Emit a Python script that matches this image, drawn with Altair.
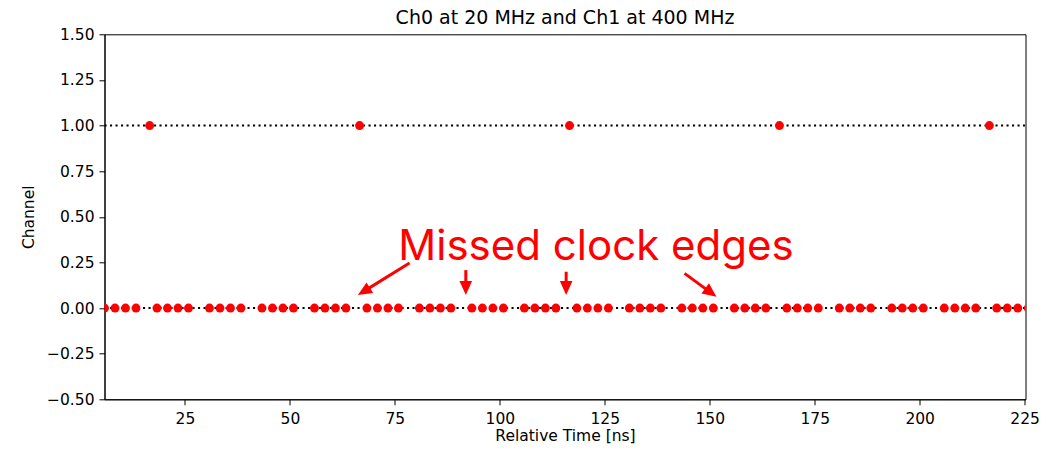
import altair as alt
import pandas as pd

# ---- data ----
ch0_time = [5.85, 8.35, 10.85, 13.35, 18.35, 20.85, 23.35, 25.85,
            30.85, 33.35, 35.85, 38.35, 43.35, 45.85, 48.35, 50.85,
            55.85, 58.35, 60.85, 63.35, 68.35, 70.85, 73.35, 75.85,
            80.85, 83.35, 85.85, 88.35, 93.35, 95.85, 98.35, 100.85,
            105.85, 108.35, 110.85, 113.35, 118.35, 120.85, 123.35, 125.85,
            130.85, 133.35, 135.85, 138.35, 143.35, 145.85, 148.35, 150.85,
            155.85, 158.35, 160.85, 163.35, 168.35, 170.85, 173.35, 175.85,
            180.85, 183.35, 185.85, 188.35, 193.35, 195.85, 198.35, 200.85,
            205.85, 208.35, 210.85, 213.35, 218.35, 220.85, 223.35, 225.85]
ch1_time = [16.6, 66.6, 116.6, 166.6, 216.6]
channel_levels = [0, 1]

x_domain = [5.85, 225.2]
y_domain = [-0.5, 1.5]
x_ticks = [25, 50, 75, 100, 125, 150, 175, 200, 225]
y_ticks = [-0.5, -0.25, 0.0, 0.25, 0.5, 0.75, 1.0, 1.25, 1.5]

chart_title = "Ch0 at 20 MHz and Ch1 at 400 MHz"
x_title = "Relative Time [ns]"
y_title = "Channel"

note_text = ["Missed clock edges"]
note_x = [122.9]
note_y = [0.265]

arrow_tail_x = [78.5, 91.9, 115.8, 144.0]
arrow_tail_y = [0.247, 0.208, 0.199, 0.190]
arrow_neck_x = [67.4, 91.9, 115.8, 150.4]
arrow_neck_y = [0.0886, 0.104, 0.104, 0.0817]
arrow_tip_x = [66.2, 91.9, 115.8, 151.6]
arrow_tip_y = [0.071, 0.071, 0.071, 0.062]
arrow_angle = [238.4, 180, 180, 126.4]

# ---- tables ----
events = pd.DataFrame({
    "t": ch0_time + ch1_time,
    "ch": [0] * len(ch0_time) + [1] * len(ch1_time),
})
levels = pd.DataFrame({"ch": channel_levels,
                       "x0": [x_domain[0]] * len(channel_levels),
                       "x1": [x_domain[1]] * len(channel_levels)})
notes = pd.DataFrame({"label": note_text, "x": note_x, "y": note_y})
arrows = pd.DataFrame({"tx": arrow_tail_x, "ty": arrow_tail_y,
                       "nx": arrow_neck_x, "ny": arrow_neck_y,
                       "px": arrow_tip_x, "py": arrow_tip_y,
                       "ang": arrow_angle})

FONT = "DejaVu Sans"
FS = 15.5
xs = alt.Scale(domain=x_domain, nice=False, zero=False)
ys = alt.Scale(domain=y_domain, nice=False, zero=False)

x_axis = alt.Axis(values=x_ticks, title=x_title, grid=False, tickSize=5.5,
                  labelPadding=7, labelFontSize=FS, titleFontSize=FS,
                  labelFont=FONT, titleFont=FONT, titleFontWeight="normal",
                  labelColor="black", titleColor="black", tickColor="black",
                  domainColor="black", labelFlush=False, labelOverlap=False,
                  titleY=41.5, titleBaseline="alphabetic", format="d")
y_axis = alt.Axis(values=y_ticks, title=y_title, grid=False, tickSize=5.5,
                  labelPadding=5, labelFontSize=FS, titleFontSize=FS,
                  labelFont=FONT, titleFont=FONT, titleFontWeight="normal",
                  labelColor="black", titleColor="black", tickColor="black",
                  domainColor="black", labelFlush=False, labelOverlap=False,
                  format=".2f", titleX=-71.2, titleBaseline="alphabetic")

lines = alt.Chart(levels).mark_rule(
    color="black", strokeDash=[2.1, 3.4], strokeWidth=2, clip=True
).encode(
    x=alt.X("x0:Q", scale=xs, axis=x_axis),
    x2="x1:Q",
    y=alt.Y("ch:Q", scale=ys, axis=y_axis),
)

dots = alt.Chart(events).mark_circle(
    color="#ff0000", size=80, opacity=1, clip=True
).encode(
    x=alt.X("t:Q", scale=xs, axis=x_axis),
    y=alt.Y("ch:Q", scale=ys, axis=y_axis),
)

shafts = alt.Chart(arrows).mark_rule(
    color="#ff0000", strokeWidth=3, strokeCap="butt"
).encode(
    x=alt.X("tx:Q", scale=xs, axis=x_axis),
    y=alt.Y("ty:Q", scale=ys, axis=y_axis),
    x2="nx:Q",
    y2="ny:Q",
)

heads = alt.Chart(arrows).mark_point(
    shape="M0,0L-0.45,1L0.45,1Z", filled=True, color="#ff0000",
    opacity=1, size=784, strokeWidth=0
).encode(
    x=alt.X("px:Q", scale=xs, axis=x_axis),
    y=alt.Y("py:Q", scale=ys, axis=y_axis),
    angle=alt.Angle("ang:Q", scale=None),
)

note = alt.Chart(notes).mark_text(
    font="Inter", fontSize=42, color="#ff0000", align="center",
    baseline="alphabetic"
).encode(
    x=alt.X("x:Q", scale=xs, axis=x_axis),
    y=alt.Y("y:Q", scale=ys, axis=y_axis),
    text="label:N",
)

chart = alt.layer(lines, dots, shafts, heads, note).properties(
    width=921,
    height=365,
    autosize="none",
    padding={"left": 96.5, "top": 26.3, "right": 21.5, "bottom": 44.7},
    title=alt.TitleParams(chart_title, font=FONT, fontSize=19,
                          fontWeight="normal", color="black", frame="group",
                          anchor="middle", baseline="alphabetic", offset=0,
                          dy=16),
).configure_view(stroke="black", strokeWidth=1)

chart.save("out.html", embed_options={"renderer": "svg", "actions": False})
